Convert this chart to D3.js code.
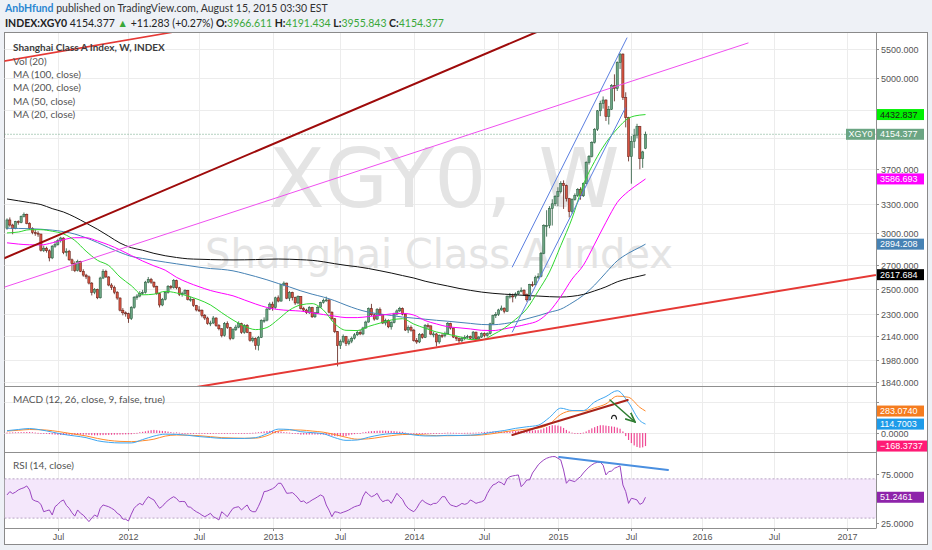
<!DOCTYPE html>
<html>
<head>
<meta charset="utf-8">
<script src="https://cdn.jsdelivr.net/npm/d3@7/dist/d3.min.js"></script>
<style>
html,body{margin:0;padding:0;background:#eef1f6;overflow:hidden;}
svg{display:block;}
</style>
</head>
<body>
<svg id="chart" width="932" height="550"></svg>
<script>
// ---------------- DATA ----------------
const firstWeek = "2011-02-28";
const lastWeek = "2015-08-10";
const holidayWeeks = ["2011-10-03","2012-01-23","2012-10-01","2013-02-11","2013-09-30","2014-02-03"];

const openP = [
3050,3134,3082,3046,3117,3106,3172,3193,3099,3048,
3007,3001,2992,2836,2856,2832,2766,2875,2889,2928,
2953,2814,2828,2749,2715,2653,2735,2647,2614,2599,
2546,2470,2495,2426,2589,2647,2598,2530,2510,2471,
2424,2329,2309,2302,2265,2349,2428,2440,2461,2468,
2554,2576,2554,2517,2459,2369,2414,2470,2519,2510,
2567,2507,2454,2460,2486,2414,2415,2366,2331,2329,
2288,2270,2229,2233,2270,2214,2191,2143,2228,2199,
2121,2184,2203,2228,2165,2216,2166,2109,2121,2073,
2129,2251,2254,2338,2376,2348,2426,2400,2533,2546,
2423,2470,2427,2385,2437,2341,2330,2310,2349,2279,
2309,2352,2389,2406,2409,2314,2264,2170,2072,2101,
2135,2086,2104,2124,2148,2165,2154,2197,2240,2341,
2294,2262,2333,2296,2233,2250,2205,2235,2300,2324,
2343,2299,2182,2200,2181,2108,2098,2151,2129,2214,
2212,2153,2154,2098,2143,2142,2155,2230,2196,2132,
2121,2106,2121,2130,2135,2124,2167,2119,2132,2156,
2142,2156,2227,2288,2297,2331,2345,2321,2435,2441,
2438,2457,2475,2487,2451,2410,2534,2532,2594,2604,
2809,3076,3076,3254,3305,3386,3439,3535,3508,3361,
3220,3353,3399,3466,3393,3531,3787,3864,4045,4224,
4488,4599,4650,4403,4510,4876,4828,5259,5409,4688,
4389,3859,4059,4143,4261,3835,3967];

const highP = [
3150,3160,3095,3125,3130,3180,3212,3200,3110,3060,
3035,3020,2995,2880,2870,2845,2885,2925,2945,2965,
2960,2855,2840,2760,2735,2750,2740,2665,2625,2610,
2555,2505,2500,2600,2665,2660,2605,2545,2525,2480,
2430,2345,2320,2310,2360,2440,2455,2480,2490,2565,
2598,2590,2560,2525,2465,2425,2480,2530,2530,2580,
2575,2515,2475,2495,2490,2435,2420,2370,2360,2335,
2300,2280,2250,2285,2275,2225,2195,2240,2245,2205,
2195,2220,2245,2235,2225,2225,2170,2135,2130,2140,
2260,2275,2345,2390,2395,2435,2445,2540,2560,2550,
2480,2475,2435,2445,2440,2355,2340,2360,2355,2315,
2360,2395,2420,2435,2415,2320,2270,2175,2115,2150,
2140,2120,2135,2160,2180,2185,2205,2250,2350,2378,
2305,2345,2350,2300,2265,2260,2245,2310,2335,2355,
2350,2305,2215,2215,2190,2125,2160,2160,2225,2230,
2215,2170,2160,2150,2160,2170,2240,2235,2200,2140,
2130,2135,2145,2148,2142,2175,2170,2140,2165,2165,
2165,2235,2295,2315,2340,2365,2350,2445,2465,2460,
2470,2485,2510,2495,2460,2540,2560,2610,2630,2820,
3090,3236,3280,3355,3400,3490,3560,3570,3520,3370,
3365,3420,3480,3490,3545,3800,3880,4060,4240,4500,
4640,4705,4660,4560,4900,5060,5280,5424,5420,4770,
4400,4130,4230,4300,4270,3935,4191];

const lowP = [
3035,3065,2990,3040,3085,3100,3160,3090,3035,2990,
2975,2965,2825,2820,2815,2735,2755,2860,2880,2910,
2800,2780,2740,2650,2640,2645,2640,2600,2580,2535,
2445,2455,2415,2420,2580,2590,2520,2490,2455,2410,
2320,2290,2280,2234,2255,2340,2410,2430,2450,2460,
2545,2540,2505,2450,2350,2360,2405,2460,2495,2500,
2495,2440,2435,2450,2405,2395,2355,2320,2315,2275,
2255,2220,2210,2225,2205,2180,2130,2135,2190,2110,
2115,2175,2195,2155,2155,2160,2100,2095,2045,2040,
2125,2235,2245,2330,2325,2340,2390,2395,2520,2415,
2400,2405,2370,2375,2335,2315,2300,2300,2270,2270,
2300,2345,2380,2395,2305,2250,2160,1936,2050,2090,
2070,2075,2090,2115,2140,2145,2145,2190,2235,2285,
2250,2255,2285,2225,2215,2195,2185,2230,2290,2315,
2290,2175,2160,2170,2100,2085,2090,2120,2125,2190,
2145,2130,2067,2085,2125,2130,2150,2185,2125,2105,
2090,2095,2110,2120,2115,2118,2110,2105,2125,2130,
2135,2150,2220,2270,2285,2325,2305,2315,2420,2390,
2420,2450,2470,2440,2395,2405,2515,2525,2580,2595,
2800,2967,3050,3077,3280,3280,3420,3250,3330,3160,
3200,3340,3380,3350,3380,3525,3760,3850,4030,4200,
4410,4520,4340,4290,4500,4630,4790,5150,4650,4250,
3800,3531,3970,4100,3703,3720,3956];

const closeP = [
3134,3082,3046,3117,3106,3172,3193,3099,3048,3007,
3001,2992,2836,2856,2832,2766,2875,2889,2928,2953,
2814,2828,2749,2715,2653,2735,2647,2614,2599,2546,
2470,2495,2426,2589,2647,2598,2530,2510,2471,2424,
2329,2309,2302,2265,2349,2428,2440,2461,2468,2554,
2576,2554,2517,2459,2369,2414,2470,2519,2510,2567,
2507,2454,2460,2486,2414,2415,2366,2331,2329,2288,
2270,2229,2233,2270,2214,2191,2143,2228,2199,2121,
2184,2203,2228,2165,2216,2166,2109,2121,2073,2129,
2251,2254,2338,2376,2348,2426,2400,2533,2546,2423,
2470,2427,2385,2437,2341,2330,2310,2349,2279,2309,
2352,2389,2406,2409,2314,2264,2170,2072,2101,2135,
2086,2104,2124,2148,2165,2154,2197,2240,2341,2294,
2262,2333,2296,2233,2250,2205,2235,2300,2324,2343,
2299,2182,2200,2181,2108,2098,2151,2129,2214,2212,
2153,2154,2098,2143,2142,2155,2230,2196,2132,2121,
2106,2121,2130,2135,2124,2167,2119,2132,2156,2142,
2156,2227,2288,2297,2331,2345,2321,2435,2441,2438,
2457,2475,2487,2451,2410,2534,2532,2594,2604,2809,
3076,3076,3254,3305,3386,3439,3535,3508,3361,3220,
3353,3399,3466,3393,3531,3787,3864,4045,4224,4488,
4599,4650,4403,4510,4876,4828,5259,5409,4688,4389,
3859,4059,4143,4261,3835,3920,4154.377];

// moving averages / MACD lines sampled at these bar indices
const sampleIdx = [0,4,8,12,16,20,24,28,32,36,40,44,48,52,56,60,64,68,72,76,80,84,88,92,96,100,104,108,112,116,120,124,128,132,136,140,144,148,152,156,160,164,168,172,176,180,184,188,192,196,200,204,208,212,216,220,224,226];
const ma20 = [3003,3012,3035,3035,3020,2993,2930,2828,2745,2698,2598,2525,2450,2455,2478,2465,2440,2410,2370,2310,2255,2210,2185,2200,2260,2330,2370,2380,2330,2228,2180,2178,2208,2232,2255,2265,2225,2195,2168,2152,2135,2115,2113,2149,2195,2260,2340,2480,2640,2880,3150,3520,3800,4040,4230,4380,4425,4432.837];
const ma50 = [2907,2895,2888,2887,2907,2937,2956,2956,2925,2887,2840,2788,2738,2695,2657,2595,2551,2516,2485,2463,2442,2409,2377,2350,2334,2327,2322,2309,2296,2284,2273,2273,2281,2290,2301,2305,2292,2251,2226,2206,2198,2190,2180,2178,2190,2206,2224,2250,2320,2435,2580,2700,2895,3110,3320,3445,3540,3586.693];
const ma100 = [3050,3048,3045,3040,3031,3016,2992,2955,2910,2862,2817,2780,2761,2744,2728,2713,2698,2683,2671,2664,2651,2628,2602,2574,2543,2514,2482,2455,2432,2403,2368,2337,2314,2300,2289,2277,2269,2261,2253,2246,2238,2230,2222,2220,2228,2243,2264,2287,2313,2337,2386,2446,2530,2635,2740,2810,2865,2894.208];
const ma200 = [3358,3338,3318,3297,3253,3217,3164,3102,3040,2972,2905,2861,2837,2808,2786,2770,2758,2754,2751,2749,2748,2749,2751,2754,2756,2754,2750,2744,2731,2714,2699,2687,2671,2652,2632,2610,2589,2562,2541,2522,2502,2486,2472,2462,2455,2450,2444,2440,2435,2432,2438,2453,2482,2515,2557,2585,2606,2617.684];
const macdLine = [30,45,58,40,12,-18,-38,-60,-100,-120,-128,-128,-85,-40,-15,-18,-30,-46,-58,-69,-70,-70,-60,-10,50,45,17,5,-10,-60,-95,-90,-55,-25,-8,-5,-25,-38,-38,-30,-32,-28,-15,12,32,60,80,100,200,320,290,290,400,470,545,390,160,114.7003];
const signalLine = [25,35,45,42,30,8,-15,-38,-70,-95,-108,-112,-100,-80,-40,-26,-28,-35,-47,-60,-65,-68,-66,-35,25,40,38,25,10,-20,-55,-80,-75,-55,-35,-20,-18,-26,-34,-35,-33,-31,-25,-8,15,35,50,63,115,240,285,285,325,375,475,460,330,283.0740];

const macdHist = [
5,6,8,9,10,11,12,13,13,10,
6,2,-2,-6,-10,-14,-18,-21,-24,-26,
-26,-25,-24,-23,-23,-23,-22,-22,-22,-25,
-28,-30,-30,-28,-27,-26,-25,-23,-22,-21,
-20,-19,-18,-17,-16,-8,2,10,15,22,
30,36,40,35,30,27,25,18,12,5,
8,4,0,-1,-2,-4,-6,-8,-11,-11,
-11,-11,-11,-10,-10,-9,-9,-8,-7,-6,
-5,-4,-3,-3,-2,-1,1,3,6,10,
15,20,25,28,27,26,25,18,12,8,
5,0,-8,-14,-21,-20,-20,-20,-20,-20,
-20,-20,-20,-25,-30,-35,-40,-42,-41,-40,
-40,-30,-20,-15,-10,0,8,14,20,24,
26,28,30,30,29,28,27,24,20,17,
15,5,-2,-5,-7,-9,-11,-12,-12,-10,
-8,-6,-4,-2,0,2,5,4,3,2,
1,1,2,3,3,4,5,7,10,13,
16,18,20,20,19,18,17,18,20,23,
25,27,29,32,30,32,34,36,37,45,
60,75,90,100,100,95,85,65,40,20,
5,-5,-10,-5,5,20,40,60,75,90,
100,100,95,90,85,80,70,55,20,-40,
-90,-130,-160,-180,-190,-185,-168.3737];

const rsi = [
53.6,57,55,56.5,58.7,60,61,62.8,58.7,49,
47.5,46.7,44,36.5,37.5,38.3,33.2,41.6,44,47,
48.5,43,40,35.5,32,38.3,35,33,29.8,26.4,
30,33.2,31.4,40,43.4,42.5,41.6,40,38.3,35,
33.2,29,28.8,27,34,40,43,45,43.4,48,
51.8,50,48.5,44,40,42,45.4,48,50.2,51.8,
50,46.7,47,46.7,41.6,41,38.5,36.5,35,33,
31.4,33,34.9,31.4,30,28.1,36.5,34,31.4,36,
40,41,41.6,38.3,41,43.4,38,36.5,36.5,42,
48.5,57,57.5,58.7,60,62,65.5,65.5,60.7,55.3,
55.5,56,53.6,50.5,46.7,47.5,45,46.5,48.5,50,
51.8,53.6,52,43.4,38,31.4,36.5,36,34.9,36,
37,38.3,40,41.6,42.5,43.4,52,57,54,51.8,
53,55.3,50,46.7,48,48.5,45,50,55.3,51.8,
49,43.4,40,38,36.5,40,45,48.5,46,44.5,
43.4,45,45,48,51.8,51.8,47,43.4,42.5,41.6,
43,45,44,45,48.5,47,45,46,46.7,48.5,
55,60,63.8,65,67.1,66,63.8,70,72.2,73,
73.5,74,62,65,68.9,69,76,80,84.2,87,
89.3,91,92,92.7,92.7,91,89.3,79.1,65.5,68.9,
68,67.1,70,72.2,76,79.1,82,84.2,86,86.9,
86.9,84,74,77.4,78,80.8,82,83.2,63.8,57,
45,50.2,49.5,48.5,44,45.5,51.2461];

const priceTicks = [5500,5000,4500,4100,3700,3300,3000,2700,2500,2300,2140,1980,1840];
const macdTicks = [400,0];
const rsiTicks = [75,50,25];
const rsiBand = [70,30];
const timeTicks = [["2011-07-01","Jul"],["2012-01-01","2012"],["2012-07-01","Jul"],["2013-01-01","2013"],["2013-07-01","Jul"],["2014-01-01","2014"],["2014-07-01","Jul"],["2015-01-01","2015"],["2015-07-01","Jul"],["2016-01-01","2016"],["2016-07-01","Jul"],["2017-01-01","2017"]];

// drawings (date, value)
const darkRedLine = [["2011-01-03",2688],["2015-01-07",5997]];
const redTopLine = [["2011-01-03",5227],["2012-07-04",5903]];
const redBottomLine = [["2012-01-01",1743],["2017-07-31",2693]];
const pinkLine = [["2011-01-03",2459],["2016-04-26",5610]];
const channelA = [["2014-09-14",2685],["2015-06-25",5703]];
const channelB = [["2014-09-14",2168],["2015-06-21",4530]];
const macdTrend = [["2014-09-14",-26],["2015-06-27",426]];
const macdArrow = [["2015-05-14",426],["2015-07-15",142]];
const macdHook = ["2015-05-24",206];
const rsiTrend = [["2015-01-08",92.3],["2015-10-06",79.1]];

const legendLines = ["Vol (20)","MA (100, close)","MA (200, close)","MA (50, close)","MA (20, close)"];

// ---------------- RENDER ----------------
const svg = d3.select("#chart");
const DAY = 864e5, WEEK = 7*DAY;
const parse = d3.utcParse("%Y-%m-%d");
const fmt = d3.utcFormat("%Y-%m-%d");
const hol = new Set(holidayWeeks);
const weeks = [];
for (let t = +parse(firstWeek); t <= +parse(lastWeek); t += WEEK) {
  const d = new Date(t);
  if (!hol.has(fmt(d))) weeks.push(d);
}
const last = weeks.length - 1;
function dateIdx(s) {
  const d = parse(s);
  if (d <= weeks[0]) return (d - weeks[0]) / WEEK;
  if (d >= weeks[last]) return last + (d - weeks[last]) / WEEK;
  const k = d3.bisectRight(weeks, d) - 1;
  return k + (d - weeks[k]) / (weeks[k+1] - weeks[k]);
}
function tickIdx(s) {
  const d = parse(s);
  if (d > weeks[last]) return dateIdx(s);
  return d3.bisectLeft(weeks, d);
}

const L = 4.5, R = 876, T = 33, MB = 386, DB = 452, RB = 528, XB = 544.5, RR = 927.5;
const x = d3.scaleLinear().domain([0, last, last + 74]).range([7, 645.5, 645.5 + 74*2.762]);
const yP = d3.scaleLog().domain([1815, 5797]).range([MB, T]);
const yM = d3.scaleLinear().domain([-245, 606]).range([DB, MB]);
const yR = d3.scaleLinear().domain([19.9, 97.4]).range([RB, DB]);

const AX = "Liberation Sans, Arial, sans-serif";
const UI = "Lato, 'Open Sans', sans-serif";

svg.append("rect").attr("width", 932).attr("height", 550).attr("fill", "#eef1f6");
svg.append("rect").attr("x", L).attr("y", 32.5).attr("width", RR - L).attr("height", XB - 32.5)
  .attr("fill", "#fff").attr("stroke", "#8a8a8a").attr("stroke-width", 1);

const defs = svg.append("defs");
function clip(id, y0, y1) {
  defs.append("clipPath").attr("id", id).append("rect")
    .attr("x", L).attr("y", y0).attr("width", R - L).attr("height", y1 - y0);
}
clip("cpMain", T, MB); clip("cpMacd", MB, DB); clip("cpRsi", DB, RB);
defs.append("marker").attr("id", "arrowG").attr("viewBox", "0 0 10 10").attr("refX", 9).attr("refY", 5)
  .attr("markerWidth", 7).attr("markerHeight", 7).attr("orient", "auto")
  .append("path").attr("d", "M0,1 L9,5 L0,9").attr("fill", "none").attr("stroke", "#2e7d32").attr("stroke-width", 1.6);

// grid
const grid = svg.append("g").attr("stroke", "#ececec").attr("stroke-width", 1);
timeTicks.forEach(t => {
  const xx = Math.round(x(tickIdx(t[0]))) + 0.5;
  grid.append("line").attr("x1", xx).attr("x2", xx).attr("y1", T).attr("y2", RB);
});
priceTicks.forEach(v => {
  const yy = Math.round(yP(v)) + 0.5;
  grid.append("line").attr("x1", L).attr("x2", R).attr("y1", yy).attr("y2", yy);
});
macdTicks.forEach(v => {
  const yy = Math.round(yM(v)) + 0.5;
  grid.append("line").attr("x1", L).attr("x2", R).attr("y1", yy).attr("y2", yy);
});

// watermark
const main = svg.append("g").attr("clip-path", "url(#cpMain)");
main.append("text").attr("x", 444).attr("y", 207).attr("text-anchor", "middle")
  .attr("font-family", "DejaVu Sans, sans-serif").attr("font-size", 82).attr("fill", "#e4e4e4").text("XGY0, W");
main.append("text").attr("x", 439).attr("y", 268).attr("text-anchor", "middle")
  .attr("font-family", "DejaVu Sans, sans-serif").attr("font-size", 40).attr("fill", "#e4e4e4").text("Shanghai Class A Index");

// dotted last price line
main.append("line").attr("x1", L).attr("x2", R).attr("y1", yP(closeP[last])).attr("y2", yP(closeP[last]))
  .attr("stroke", "#6ba583").attr("stroke-dasharray", "1,2").attr("stroke-width", 1);

// candles
const bars = weeks.map((d, i) => ({i, o: openP[i], h: highP[i], l: lowP[i], c: closeP[i]}));
const cg = main.append("g");
cg.selectAll("line.w").data(bars).join("line")
  .attr("x1", d => x(d.i)).attr("x2", d => x(d.i))
  .attr("y1", d => yP(d.h)).attr("y2", d => yP(d.l))
  .attr("stroke", d => d.c >= d.o ? "#225437" : "#5b1a13").attr("stroke-width", 0.8);
cg.selectAll("rect.b").data(bars).join("rect")
  .attr("x", d => x(d.i) - 1.1).attr("width", 2.2)
  .attr("y", d => Math.min(yP(d.o), yP(d.c)))
  .attr("height", d => Math.max(1, Math.abs(yP(d.o) - yP(d.c))))
  .attr("fill", d => d.c >= d.o ? "#6ba583" : "#d75442")
  .attr("stroke", d => d.c >= d.o ? "#225437" : "#5b1a13").attr("stroke-width", 0.5);

// moving averages
const maLine = d3.line().x((d, k) => x(sampleIdx[k])).y(d => yP(d)).curve(d3.curveMonotoneX);
[[ma100, "#4682b4"], [ma200, "#111"], [ma50, "#ff00ff"], [ma20, "#2fd62f"]].forEach(([arr, col]) => {
  main.append("path").attr("d", maLine(arr)).attr("fill", "none").attr("stroke", col).attr("stroke-width", 1);
});

// drawings
function seg(g, pts, ys, col, w) {
  return g.append("line")
    .attr("x1", x(dateIdx(pts[0][0]))).attr("y1", ys(pts[0][1]))
    .attr("x2", x(dateIdx(pts[1][0]))).attr("y2", ys(pts[1][1]))
    .attr("stroke", col).attr("stroke-width", w).attr("stroke-linecap", "round");
}
seg(main, pinkLine, yP, "#ef4fef", 1);
seg(main, channelA, yP, "#5b7fe0", 1);
seg(main, channelB, yP, "#5b7fe0", 1);
seg(main, darkRedLine, yP, "#9e0b0b", 2);
seg(main, redTopLine, yP, "#e53935", 1.6);
seg(main, redBottomLine, yP, "#e53935", 2);

// MACD pane
const mg = svg.append("g").attr("clip-path", "url(#cpMacd)");
mg.selectAll("rect").data(macdHist).join("rect")
  .attr("x", (d, i) => x(i) - 0.6).attr("width", 1.2)
  .attr("y", d => Math.min(yM(0), yM(d))).attr("height", d => Math.max(0.8, Math.abs(yM(d) - yM(0))))
  .attr("fill", "#ef4a95");
const mLine = d3.line().x((d, k) => x(sampleIdx[k])).y(d => yM(d)).curve(d3.curveMonotoneX);
mg.append("path").attr("d", mLine(signalLine)).attr("fill", "none").attr("stroke", "#ff8a2a").attr("stroke-width", 1);
mg.append("path").attr("d", mLine(macdLine)).attr("fill", "none").attr("stroke", "#3ea6f0").attr("stroke-width", 1);
seg(mg, macdTrend, yM, "#a8241a", 2);
seg(mg, macdArrow, yM, "#2e7d32", 1.5).attr("marker-end", "url(#arrowG)");
{
  const hx = x(dateIdx(macdHook[0])), hy = yM(macdHook[1]);
  mg.append("path").attr("d", `M${hx-2.5},${hy+2} C${hx-2.5},${hy-3} ${hx+2.5},${hy-3} ${hx+2.5},${hy+2.5}`)
    .attr("fill", "none").attr("stroke", "#222").attr("stroke-width", 1.2);
}

// RSI pane
const rg = svg.append("g").attr("clip-path", "url(#cpRsi)");
rg.append("rect").attr("x", L).attr("width", R - L).attr("y", yR(rsiBand[0])).attr("height", yR(rsiBand[1]) - yR(rsiBand[0]))
  .attr("fill", "#f4e7fb");
rsiBand.forEach(v => rg.append("line").attr("x1", L).attr("x2", R).attr("y1", yR(v)).attr("y2", yR(v))
  .attr("stroke", "#b8a3c4").attr("stroke-dasharray", "2,2").attr("stroke-width", 1));
rg.append("path").attr("d", d3.line().x((d, i) => x(i)).y(d => yR(d))(rsi))
  .attr("fill", "none").attr("stroke", "#9a45c0").attr("stroke-width", 1);
seg(rg, rsiTrend, yR, "#4a8fe0", 2);

// separators & axes
const ax = svg.append("g");
[MB, DB, RB].forEach(yy => ax.append("line").attr("x1", L).attr("x2", R).attr("y1", yy + 0.5).attr("y2", yy + 0.5)
  .attr("stroke", "#8f8f8f"));
ax.append("line").attr("x1", R + 0.5).attr("x2", R + 0.5).attr("y1", 32.5).attr("y2", RB + 0.5).attr("stroke", "#8f8f8f");

// value labels (computed first so that covered tick labels can be left out)
const valueLabels = [
  {v: ma20[ma20.length-1], s: yP, t: d3.format(".3f")(ma20[ma20.length-1]), bg: "#00f000", fg: "#1a1a1a"},
  {v: closeP[last], s: yP, t: d3.format(".3f")(closeP[last]), bg: "#6ba583", fg: "#fff"},
  {v: ma50[ma50.length-1], s: yP, t: d3.format(".3f")(ma50[ma50.length-1]), bg: "#ff00ff", fg: "#fff"},
  {v: ma100[ma100.length-1], s: yP, t: d3.format(".3f")(ma100[ma100.length-1]), bg: "#4682b4", fg: "#fff"},
  {v: ma200[ma200.length-1], s: yP, t: d3.format(".3f")(ma200[ma200.length-1]), bg: "#000", fg: "#fff"},
  {v: signalLine[signalLine.length-1], s: yM, t: d3.format(".4f")(signalLine[signalLine.length-1]), bg: "#f57c1f", fg: "#fff"},
  {v: macdLine[macdLine.length-1], s: yM, t: d3.format(".4f")(macdLine[macdLine.length-1]), bg: "#1e9be9", fg: "#fff"},
  {v: macdHist[last], s: yM, t: d3.format(".4f")(macdHist[last]), bg: "#ff1a75", fg: "#fff", w: 50},
  {v: rsi[last], s: yR, t: d3.format(".4f")(rsi[last]), bg: "#8e24aa", fg: "#fff"}
];
const labelYs = valueLabels.map(d => d.s(d.v));

function tickLabel(yy, txt) {
  ax.append("line").attr("x1", R).attr("x2", R + 3).attr("y1", yy).attr("y2", yy).attr("stroke", "#8f8f8f");
  if (labelYs.some(ly => Math.abs(ly - yy) < 9)) return;
  ax.append("text").attr("x", R + 5).attr("y", yy + 3.2).text(txt)
    .attr("font-family", AX).attr("font-size", 9).attr("fill", "#555");
}
priceTicks.forEach(v => tickLabel(Math.round(yP(v)) + 0.5, d3.format(".3f")(v)));
macdTicks.forEach(v => tickLabel(Math.round(yM(v)) + 0.5, d3.format(".4f")(v)));
rsiTicks.forEach(v => tickLabel(Math.round(yR(v)) + 0.5, d3.format(".4f")(v)));

timeTicks.forEach(t => {
  const xx = Math.round(x(tickIdx(t[0]))) + 0.5;
  ax.append("line").attr("x1", xx).attr("x2", xx).attr("y1", RB).attr("y2", RB + 3).attr("stroke", "#8f8f8f");
  ax.append("text").attr("x", xx).attr("y", 539.5).attr("text-anchor", "middle").text(t[1])
    .attr("font-family", AX).attr("font-size", 9).attr("fill", "#555");
});

valueLabels.forEach(d => {
  const yy = d.s(d.v);
  ax.append("rect").attr("x", R + 1).attr("y", yy - 5.5).attr("width", d.w || 47).attr("height", 11).attr("fill", d.bg);
  ax.append("text").attr("x", R + 4).attr("y", yy + 3.2).text(d.t)
    .attr("font-family", AX).attr("font-size", 9).attr("fill", d.fg);
});
{
  const yy = yP(closeP[last]);
  ax.append("rect").attr("x", 846).attr("y", yy - 5.5).attr("width", 29).attr("height", 11).attr("fill", "#6ba583");
  ax.append("text").attr("x", 860.5).attr("y", yy + 3.2).attr("text-anchor", "middle").text("XGY0")
    .attr("font-family", AX).attr("font-size", 9).attr("fill", "#fff");
}

// legends
const lg = svg.append("g").attr("font-family", UI).attr("font-size", 10).attr("fill", "#555");
lg.append("text").attr("x", 13).attr("y", 51).attr("font-weight", "bold").attr("fill", "#3c3c3c")
  .text("Shanghai Class A Index, W, INDEX");
legendLines.forEach((t, k) => lg.append("text").attr("x", 13).attr("y", 64.5 + k * 13.4).text(t));
lg.append("text").attr("x", 13).attr("y", 403).text("MACD (12, 26, close, 9, false, true)");
lg.append("text").attr("x", 13).attr("y", 469).text("RSI (14, close)");

// header
const hd = svg.append("g").attr("font-family", UI).attr("font-size", 10.5);
const h1 = hd.append("text").attr("x", 5).attr("y", 12);
h1.append("tspan").attr("font-weight", "bold").attr("fill", "#2a86d1").text("AnbHfund");
h1.append("tspan").attr("fill", "#333").text(" published on TradingView.com, August 15, 2015 03:30 EST");
const h2 = hd.append("text").attr("x", 5).attr("y", 27).attr("fill", "#222");
const G = "#3aa83a";
[["INDEX:XGY0", "bold", "#222"], [" 4154.377 ", "normal", "#222"], ["▲", "normal", G], [" +11.283 (+0.27%) ", "normal", "#222"],
 ["O:", "bold", "#222"], ["3966.611", "normal", G], [" H:", "bold", "#222"], ["4191.434", "normal", G],
 [" L:", "bold", "#222"], ["3955.843", "normal", G], [" C:", "bold", "#222"], ["4154.377", "normal", G]]
 .forEach(([t, w, c]) => h2.append("tspan").attr("font-weight", w).attr("fill", c).attr("xml:space", "preserve").text(t));
</script>
</body>
</html>
